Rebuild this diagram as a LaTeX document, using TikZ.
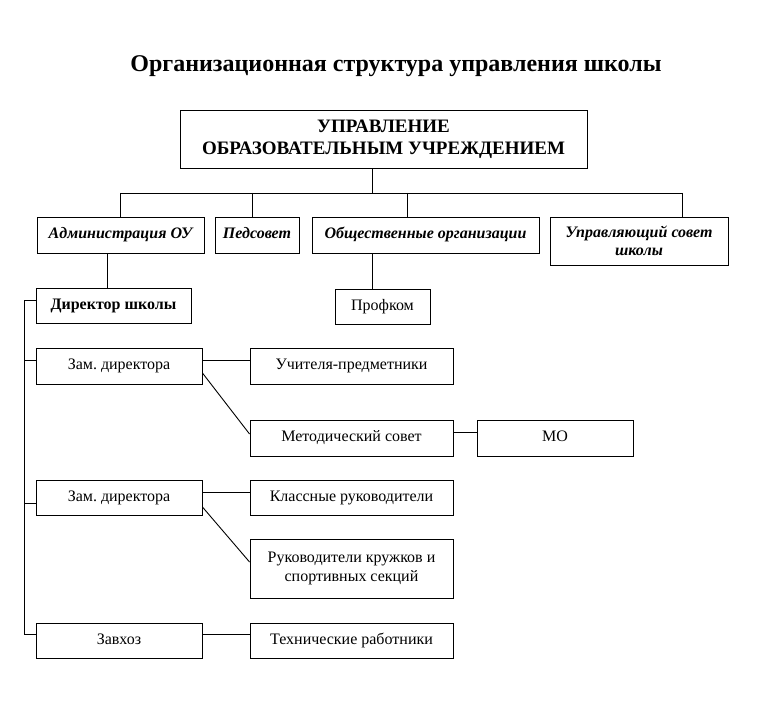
\documentclass[tikz,border=0pt]{standalone}
\usepackage{fontspec}
\setmainfont{Liberation Serif}
\frenchspacing
\begin{document}
\begin{tikzpicture}[x=1pt,y=-1pt,
  line width=0.9pt,
  frame/.style={draw, line width=0.9pt, inner sep=0pt, align=center, font=\fontsize{16}{19}\selectfont},
  one/.style={text height=11pt, text depth=4pt},
  bx/.style={frame, one},
  bi/.style={bx, font=\fontsize{16}{18}\selectfont\bfseries\itshape},
  bb/.style={bx, font=\fontsize{16}{19}\selectfont\bfseries}]
\useasboundingbox[fill=white] (0,0) rectangle (757,722);
\node[font=\fontsize{24}{28}\selectfont\bfseries] (title) at (396,66) {Организационная структура управления школы};
\node[frame, minimum width=407, minimum height=58, font=\fontsize{19}{22}\selectfont\bfseries] (top) at (383.5,139) {УПРАВЛЕНИЕ\\ОБРАЗОВАТЕЛЬНЫМ УЧРЕЖДЕНИЕМ};
\node[bi, minimum width=167, minimum height=36] (admin) at (120.5,235) {Администрация ОУ};
\node[bi, minimum width=84, minimum height=36] (ped) at (257,235) {Педсовет};
\node[bi, minimum width=227, minimum height=36] (obsch) at (425.5,235) {Общественные организации};
\node[frame, font=\fontsize{16}{18}\selectfont\bfseries\itshape, minimum width=178, minimum height=48] (upr) at (639,241) {Управляющий совет\\школы};
\node[bb, minimum width=155, minimum height=35] (dir) at (113.5,305.5) {Директор школы};
\node[bx, minimum width=95, minimum height=35] (prof) at (382.5,306.5) {Профком};
\node[bx, minimum width=166, minimum height=36] (zam1) at (119,366) {Зам. директора};
\node[bx, minimum width=203, minimum height=36] (uch) at (351.5,366) {Учителя-предметники};
\node[bx, minimum width=203, minimum height=36] (metod) at (351.5,438) {Методический совет};
\node[bx, minimum width=156, minimum height=36] (mo) at (555,438) {МО};
\node[bx, minimum width=166, minimum height=35] (zam2) at (119,497.5) {Зам. директора};
\node[bx, minimum width=203, minimum height=35] (klass) at (351.5,497.5) {Классные руководители};
\node[frame, minimum width=203, minimum height=59] (ruk) at (351.5,568.5) {Руководители кружков и\\спортивных секций};
\node[bx, minimum width=166, minimum height=35] (zavhoz) at (119,640.5) {Завхоз};
\node[bx, minimum width=203, minimum height=35] (tech) at (351.5,640.5) {Технические работники};
% bus
\coordinate (bT) at (372,193);
\coordinate (bL) at (120,193);
\coordinate (bP) at (252,193);
\coordinate (bO) at (407,193);
\coordinate (bR) at (682,193);
\draw (top.south -| bT) -- (bT);
\draw (bL) -- (bR);
\draw (bL) -- (admin.north -| bL);
\draw (bP) -- (ped.north -| bP);
\draw (bO) -- (obsch.north -| bO);
\draw (bR) -- (upr.north -| bR);
\coordinate (ad) at (107,270);
\draw (admin.south -| ad) -- (dir.north -| ad);
\coordinate (op) at (372,270);
\draw (obsch.south -| op) -- (prof.north -| op);
% spine
\coordinate (s1) at (24,300);
\coordinate (s2) at (24,360);
\coordinate (s3) at (24,503);
\coordinate (s4) at (24,634);
\draw (s1 -| dir.west) -- (s1) -- (s4) -- (s4 -| zavhoz.west);
\draw (s2) -- (s2 -| zam1.west);
\draw (s3) -- (s3 -| zam2.west);
% branches
\coordinate (h1) at (0,360);
\draw (h1 -| zam1.east) -- (h1 -| uch.west);
\coordinate (d1a) at (0,373);
\coordinate (d1b) at (0,434);
\draw (d1a -| zam1.east) -- (d1b -| metod.west);
\coordinate (h2) at (0,432);
\draw (h2 -| metod.east) -- (h2 -| mo.west);
\coordinate (h3) at (0,492);
\draw (h3 -| zam2.east) -- (h3 -| klass.west);
\coordinate (d2a) at (0,507);
\coordinate (d2b) at (0,562);
\draw (d2a -| zam2.east) -- (d2b -| ruk.west);
\coordinate (h4) at (0,634);
\draw (h4 -| zavhoz.east) -- (h4 -| tech.west);
\end{tikzpicture}
\end{document}
